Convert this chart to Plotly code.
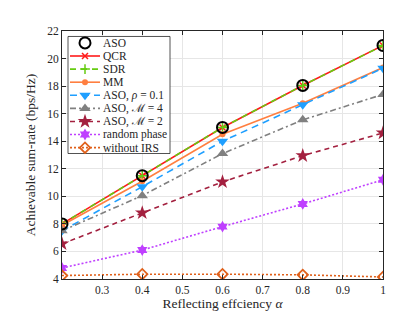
import plotly.graph_objects as go

alpha = [0.2, 0.4, 0.6, 0.8, 1.0]
aso = [8.0, 11.5, 15.0, 18.05, 20.95]
qcr = [8.0, 11.5, 15.0, 18.05, 20.95]
sdr = [8.0, 11.5, 15.0, 18.05, 20.95]
mm = [7.9, 11.1, 14.5, 16.75, 19.35]
aso_rho = [7.5, 10.7, 14.0, 16.65, 19.3]
aso_m4 = [7.5, 10.05, 13.1, 15.55, 17.4]
aso_m2 = [6.55, 8.8, 11.05, 12.95, 14.6]
random_phase = [4.8, 6.1, 7.8, 9.45, 11.2]
without_irs = [4.25, 4.35, 4.35, 4.3, 4.15]

series_names = ["ASO", "QCR", "SDR", "MM", "ASO, <i>ρ</i> = 0.1", "ASO, ℳ = 4",
                "ASO, ℳ = 2", "random phase", "without IRS"]

x_ticks = [0.3, 0.4, 0.5, 0.6, 0.7, 0.8, 0.9, 1.0]
x_tick_labels = ["0.3", "0.4", "0.5", "0.6", "0.7", "0.8", "0.9", "1"]
y_ticks = [4, 6, 8, 10, 12, 14, 16, 18, 20, 22]

W, H = 415, 312
ML, MR, MT, MB = 54, 40, 23, 39

styles = [
    (dict(color="rgba(0,0,0,0)", width=0), dict(symbol="circle-open", size=11, color="black", line=dict(width=2, color="black")), "markers"),
    (dict(color="#ff1a1a", width=1.6), dict(symbol="x-thin", size=6, color="#ff1a1a", line=dict(width=1.5, color="#ff1a1a")), "lines+markers"),
    (dict(color="#66cc11", width=1.6, dash="6px,5px"), dict(symbol="cross-thin", size=7, color="#66cc11", line=dict(width=1.5, color="#66cc11")), "lines+markers"),
    (dict(color="#ff7f40", width=1.6), dict(symbol="circle", size=6, color="#ff7f40"), "lines+markers"),
    (dict(color="#1f9fff", width=1.6, dash="7px,5px"), dict(symbol="triangle-down", size=10, color="#1f9fff"), "lines+markers"),
    (dict(color="#808080", width=1.6, dash="6px,3px,2px,3px"), dict(symbol="triangle-up", size=10, color="#808080"), "lines+markers"),
    (dict(color="#a3203f", width=1.6, dash="5px,4px"), dict(symbol="star", size=11, color="#a3203f"), "lines+markers"),
    (dict(color="#bf40ff", width=1.6, dash="2px,2px"), dict(symbol="hexagram", size=9, color="#bf40ff"), "lines+markers"),
    (dict(color="#e0601a", width=1.6, dash="2px,2px"), dict(symbol="diamond-open", size=8, color="#e0601a", line=dict(width=1.8, color="#e0601a")), "lines+markers"),
]
data = [aso, qcr, sdr, mm, aso_rho, aso_m4, aso_m2, random_phase, without_irs]

fig = go.Figure()
order = [1, 2, 3, 4, 5, 6, 7, 8, 0]
for i in order:
    line, marker, mode = styles[i]
    fig.add_trace(go.Scatter(x=alpha, y=data[i], name=series_names[i], mode=mode,
                             line=line, marker=marker, showlegend=False))

# ---- custom compact legend on a pixel-unit overlay axis ----
LX0, LX1, LY0, LY1 = 60, 162, 28.5, 146.5
ly_first, ly_step = 35.0, 13.2
fig.add_trace(go.Scatter(x=[LX0, LX1, LX1, LX0, LX0], y=[LY0, LY0, LY1, LY1, LY0],
                         mode="lines", fill="toself", fillcolor="white",
                         line=dict(color="#262626", width=0.8),
                         xaxis="x2", yaxis="y2", showlegend=False, hoverinfo="skip"))
for i, name in enumerate(series_names):
    line, marker, mode = styles[i]
    yy = ly_first + i * ly_step
    if mode == "markers":
        fig.add_trace(go.Scatter(x=[77], y=[yy], mode="markers", marker=marker,
                                 xaxis="x2", yaxis="y2", showlegend=False, hoverinfo="skip"))
    else:
        fig.add_trace(go.Scatter(x=[62, 92], y=[yy, yy], mode="lines", line=line,
                                 xaxis="x2", yaxis="y2", showlegend=False, hoverinfo="skip"))
        fig.add_trace(go.Scatter(x=[77], y=[yy], mode="markers", marker=marker,
                                 xaxis="x2", yaxis="y2", showlegend=False, hoverinfo="skip"))
    fig.add_annotation(x=94.5, y=yy, xref="x2", yref="y2", text=name, showarrow=False,
                       xanchor="left", yanchor="middle", xshift=-2,
                       font=dict(size=11.5, color="#262626"))

font_family = '"Liberation Serif", "Times New Roman", serif'
fig.update_layout(
    width=W, height=H,
    margin=dict(l=ML, r=MR, t=MT, b=MB),
    paper_bgcolor="white", plot_bgcolor="white",
    font=dict(family=font_family, size=12, color="#262626"),
    showlegend=False,
    xaxis=dict(
        range=[0.2, 1.0], tickvals=x_ticks, ticktext=x_tick_labels,
        showgrid=True, gridcolor="#e6e6e6", gridwidth=1,
        showline=True, linecolor="#262626", linewidth=1, mirror="ticks",
        ticks="inside", ticklen=4, tickcolor="#262626",
        zeroline=False,
        title=dict(text="Reflecting effciency <i>α</i>", font=dict(size=13.5), standoff=3),
        tickfont=dict(size=11.5),
    ),
    yaxis=dict(
        range=[4, 22], tickvals=y_ticks,
        showgrid=True, gridcolor="#e6e6e6", gridwidth=1,
        showline=True, linecolor="#262626", linewidth=1, mirror="ticks",
        ticks="inside", ticklen=4, tickcolor="#262626",
        zeroline=False,
        title=dict(text="Achievable sum-rate (bps/Hz)", font=dict(size=13.5), standoff=8),
        tickfont=dict(size=11.5),
    ),
    xaxis2=dict(overlaying="x", range=[ML, W - MR], visible=False, fixedrange=True),
    yaxis2=dict(overlaying="y", range=[H - MB, MT], visible=False, fixedrange=True),
)

fig.write_html("out.html")
